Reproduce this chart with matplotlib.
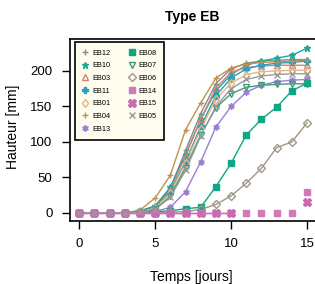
import numpy as np
import matplotlib
matplotlib.use("Agg")
import matplotlib.pyplot as plt

plt.rcParams['font.family'] = ['Liberation Sans', 'DejaVu Sans']

# ---------------------------------------------------------------- data ----
jours = np.arange(16)

EB12 = [0, 0, 0, 0, 2, 8, 35, 88, 140, 182, 203, 211, 214, 215, 216, 216]
EB10 = [0, 0, 0, 0, 3, 10, 36, 82, 132, 172, 195, 208, 214, 218, 222, 232]
EB03 = [0, 0, 0, 0, 2, 7, 32, 80, 132, 176, 198, 205, 207, 208, 208, 208]
EB11 = [0, 0, 0, 0, 2, 8, 30, 72, 122, 165, 190, 203, 208, 211, 212, 214]
EB01 = [0, 0, 0, 0, 1, 7, 28, 70, 118, 160, 183, 195, 199, 200, 201, 201]
EB04 = [0, 0, 0, 0, 4, 21, 53, 117, 155, 190, 204, 210, 212, 213, 214, 215]
EB13 = [0, 0, 0, 0, 0, 2, 8, 30, 72, 121, 150, 170, 180, 185, 187, 188]
EB08 = [0, 0, 0, 0, 1, 2, 3, 6, 8, 37, 70, 110, 132, 149, 172, 183]
EB07 = [0, 0, 0, 0, 1, 5, 24, 64, 110, 148, 168, 177, 180, 181, 182, 182]
EB06 = [0, 0, 0, 0, 0, 0, 1, 2, 5, 12, 24, 42, 63, 92, 100, 127]
EB14 = [0, 0, 0, 0, 0, 0, 0, 0, 0, 0, 0, 0, 0, 0, 0, 30]
EB15 = [0, 0, 0, 0, 0, 0, 0, 0, 0, 0, 0, np.nan, np.nan, np.nan, np.nan, 15]
EB05 = [0, 0, 0, 0, 1, 5, 22, 60, 108, 150, 175, 188, 193, 195, 196, 196]

# nom, valeurs, marqueur, couleur, marqueur plein?
series = [
    ("EB12", EB12, "+", "#8a8a8a", False),
    ("EB10", EB10, "*", "#1aa89a", True),
    ("EB03", EB03, "^", "#d9826a", False),
    ("EB11", EB11, "P", "#2f9cc0", True),
    ("EB01", EB01, "d", "#e2b88a", False),
    ("EB04", EB04, "+", "#c09050", False),
    ("EB13", EB13, (6, 1, 0), "#9a80d4", True),
    ("EB08", EB08, "s", "#0fa585", True),
    ("EB07", EB07, "v", "#3d9c78", False),
    ("EB06", EB06, "D", "#a09888", False),
    ("EB14", EB14, "s", "#d478b8", True),
    ("EB15", EB15, "X", "#c86ab4", True),
    ("EB05", EB05, "x", "#9a9a9a", False),
]

# ---------------------------------------------------------------- figure --------------------------
fig = plt.figure(figsize=(3.15, 2.84), dpi=100)
ax = fig.add_axes([70/315, 63/284, 250/315, 182/284])   # le bord droit sort de l'image

handles = []
for nom, vals, mk, col, plein in series:
    vals = np.array(vals, dtype=float)
    # la courbe, sans le dernier point isole pour EB14/EB15
    if nom in ("EB14", "EB15"):
        ax.plot(jours[:11], vals[:11], color=col, lw=1, zorder=2)
    else:
        ax.plot(jours, vals, color=col, lw=1, zorder=2)
    fc = col if plein else "none"
    ms = 5.5 if nom == "EB15" else 4.5
    h, = ax.plot(jours, vals, linestyle="none", marker=mk, markersize=ms,
                 markerfacecolor=fc, markeredgecolor=col, markeredgewidth=1,
                 color=col, label=nom, zorder=3)
    handles.append(h)

ax.set_xlim(-0.6, 15.85)
ax.set_ylim(-11.3, 245)
ax.set_xticks([0, 5, 10, 15])
ax.set_yticks([0, 50, 100, 150, 200])
ax.tick_params(labelsize=9.5, length=5.5, width=1, pad=7)
for s in ax.spines.values():
    s.set_linewidth(1.2)

leg = ax.legend(handles=handles, ncol=2, loc="upper left",
                bbox_to_anchor=(5/250, (221-42)/182), borderaxespad=0,
                fontsize=5.3, labelspacing=0.75, handlelength=0.8,
                handletextpad=0.5, columnspacing=2.6, borderpad=1.0,
                fancybox=False, edgecolor="black", facecolor="#fdfcee",
                framealpha=1)
leg.get_frame().set_linewidth(1.2)

fig.text(192/315, 1 - 17/284, "Type EB", ha="center", va="center",
         fontsize=10, fontweight="bold")
fig.text(191/315, 1 - 277/284, "Temps [jours]", ha="center", va="center", fontsize=10)
fig.text(13/315, 1 - 127/284, "Hauteur [mm]", ha="center", va="center",
         rotation=90, fontsize=10)

fig.savefig("out.png", dpi=100)
